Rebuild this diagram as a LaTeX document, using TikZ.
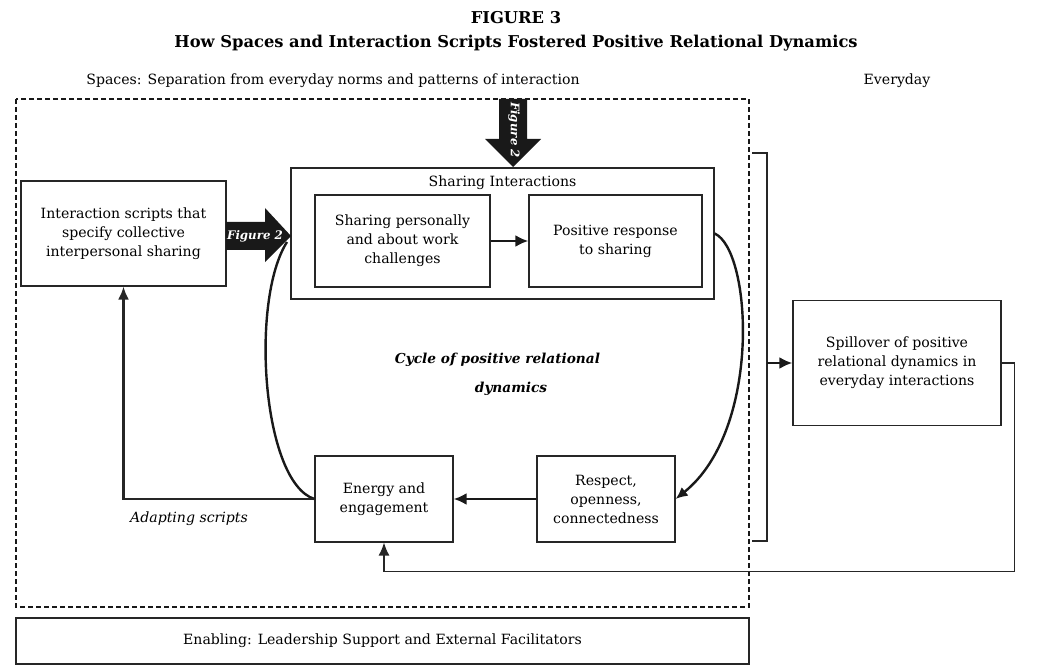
\documentclass[tikz,border=0pt]{standalone}
\usepackage{fontspec}
\setmainfont{DejaVu Serif}
\usetikzlibrary{calc,arrows.meta}

\tikzset{
  txt/.style={font=\fontsize{14.1}{19}\selectfont},
  box/.style={draw=black!85,line width=1.2pt,align=center,inner sep=2pt,txt},
  flow/.style={line width=2.6pt,-{Latex[length=13pt,width=12pt]},black!90},
  thinflow/.style={line width=1.3pt,-{Latex[length=13pt,width=11pt]},black!85},
  loop/.style={line width=2.4pt,black!90},
  fatarrow/.style={fill=black!90}
}

\begin{document}
\begin{tikzpicture}[x=1pt,y=-1pt]
\useasboundingbox (0,0) rectangle (1063,671);

% titles
\node[font=\bfseries\fontsize{16.3}{19}\selectfont] (fignum) at (516,18) {FIGURE 3};
\node[font=\bfseries\fontsize{16.3}{19}\selectfont] (title) at (516,43)
  {How Spaces and Interaction Scripts Fostered Positive Relational Dynamics};
\node[txt] (spaces) at (333,81) {Spaces: Separation from everyday norms and patterns of interaction};
\node[txt] (everyday) at (897,81) {Everyday};

% spaces frame
\draw[line width=1.6pt,dash pattern=on 5pt off 3pt,black!90] (16,99) rectangle (749,607);

% boxes
\node[box,minimum width=205pt,minimum height=105pt] (scripts) at (123.5,233.5)
  {Interaction scripts that\\specify collective\\interpersonal sharing};
\node[box,minimum width=423pt,minimum height=131pt] (share) at (502.5,233.5) {};
\node[txt] (sharelabel) at ($(share.north)+(0,15)$) {Sharing Interactions};
\node[box,minimum width=175pt,minimum height=92pt] (personal) at (402.5,241)
  {Sharing personally\\and about work\\challenges};
\node[box,minimum width=173pt,minimum height=92pt] (response) at (615.5,241)
  {Positive response\\to sharing};
\node[box,minimum width=138pt,minimum height=86pt] (energy) at (384,499)
  {Energy and\\engagement};
\node[box,minimum width=138pt,minimum height=86pt] (respect) at (606,499)
  {Respect,\\openness,\\connectedness};
\node[box,minimum width=208pt,minimum height=125pt] (spill) at (897,363)
  {Spillover of positive\\relational dynamics in\\everyday interactions};
\node[box,minimum width=733pt,minimum height=46pt] (enable) at (382.5,641)
  {Enabling: Leadership Support and External Facilitators};

% cycle label
\node[font=\bfseries\itshape\fontsize{13.7}{19}\selectfont] (cycle1) at (497.5,360) {Cycle of positive relational};
\node[font=\bfseries\itshape\fontsize{13.7}{19}\selectfont] (cycle2) at (511,389) {dynamics};

% Figure 2 arrows
\fill[fatarrow] (226,222) -- (265,222) -- (265,208) -- (291,236) -- (265,262)
  -- (265,250) -- (226,250) -- cycle;
\coordinate (fig2tip) at (287,242);
\node[text=white,font=\bfseries\itshape\fontsize{11.8}{13}\selectfont] (figA) at (255,236) {Figure 2};
\fill[fatarrow] (499,99) -- (527,99) -- (527,139) -- (541,139) -- (513,167)
  -- (485,139) -- (499,139) -- cycle;
\node[text=white,rotate=-90,font=\bfseries\itshape\fontsize{11.8}{13}\selectfont] (figB) at (514,130) {Figure 2};

% arrows
\draw[flow] (personal) -- (response);
\draw[flow] (respect) -- (energy);
\draw[loop,-{Latex[length=12pt,width=11pt]}] (share.east) .. controls (752,250) and (762,430) .. (respect.east);
\draw[loop] (energy.west) .. controls (262,482) and (250,300) .. (fig2tip);
\draw[thinflow,line width=2.2pt] (energy.west) -- (scripts.south |- energy.west) -- (scripts.south);
\node[txt,font=\itshape\fontsize{14.1}{19}\selectfont] (adapt) at (189,519) {Adapting scripts};

% everyday bracket
\draw[line width=1.2pt,black!85] (752,153) -- (767,153) -- (767,541) -- (752,541);
\coordinate (brk) at (767,363);
\draw[flow] (brk) -- (spill.west);
\draw[thinflow] (spill.east) -- ++(13,0) |- ($(energy.south)+(0,29)$) -- (energy.south);
\end{tikzpicture}
\end{document}
